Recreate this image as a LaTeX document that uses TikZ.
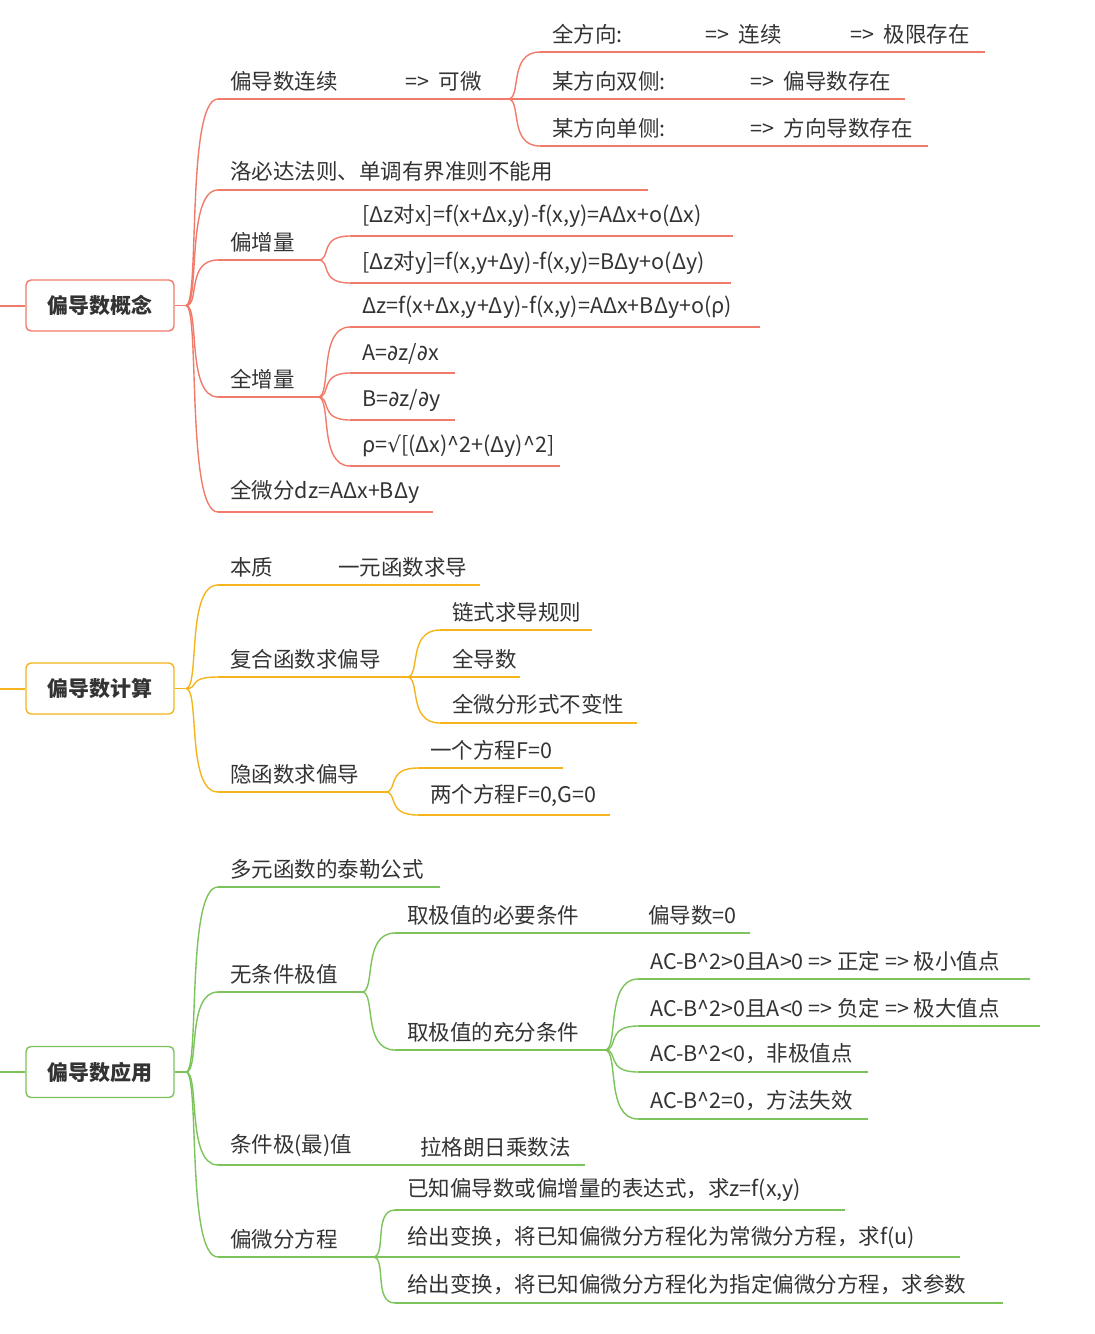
\documentclass[tikz,border=0pt]{standalone}
\usepackage{fontspec}
\setmainfont{Noto Sans CJK SC}
\newfontfamily\symf{DejaVu Sans}
\usetikzlibrary{calc}
\definecolor{mred}{HTML}{F07B6A}
\definecolor{morange}{HTML}{F5B41C}
\definecolor{mgreen}{HTML}{7BC35A}
\definecolor{mtext}{HTML}{333333}
\colorlet{bc}{mred}
\tikzset{
  txt/.style={anchor=south west,inner sep=0pt,text=mtext,font=\fontsize{21.5}{25}\selectfont},
  uline/.style={draw=bc,line width=1.4pt},
  rootbox/.style={draw=bc,line width=1.4pt,rounded corners=5pt,minimum width=148pt,
    minimum height=51pt,text=mtext,font=\fontsize{21}{25}\selectfont\bfseries,fill=white}
}
\newcommand\pd{{\symf ∂}}
% leaf: name, x start, x end, y, text
\newcommand\leaf[5]{%
  \coordinate (#1-s) at (#2,#4);
  \coordinate (#1-e) at (#3,#4);
  \draw[uline] (#1-s) -- (#1-e);
  \node[txt] (#1) at (#2+12,#4-8) {#5};
}
\newcommand\link[2]{%
  \draw[uline] (#1) .. controls ($(#1)+(14,0)$) and ($(#1|-#2)+(0,0)$) .. (#2);
}
\begin{document}
\begin{tikzpicture}[x=1pt,y=-1pt]
\useasboundingbox (0,0) rectangle (1095,1334);

% ---- 偏导数概念
\colorlet{bc}{mred}
\node[rootbox] (r1) at (100,305.5) {偏导数概念};
\coordinate (r1-l) at (0,305.5);
\coordinate (r1-e) at (186,305.5);
\draw[uline,line width=2pt] (r1-l) -- (r1.west);
\draw[uline] (r1.east) -- (r1-e);
\leaf{kw}{218}{508}{99}{偏导数连续}
\node[txt] at (405,91) {=>\ \ 可微};
\leaf{qf}{540}{985}{52}{全方向:}
\node[txt] at (705,44) {=>\ \ 连续};
\node[txt] at (850,44) {=>\ \ 极限存在};
\leaf{sc}{540}{905}{99}{某方向双侧:}
\node[txt] at (750,91) {=>\ \ 偏导数存在};
\leaf{dc}{540}{928}{146}{某方向单侧:}
\node[txt] at (750,138) {=>\ \ 方向导数存在};
\leaf{lb}{218}{648}{190}{洛必达法则、单调有界准则不能用}
\leaf{pz}{218}{318}{260}{偏增量}
\leaf{px}{350}{733}{236}{[Δz对x]=f(x+Δx,y)-f(x,y)=AΔx+o(Δx)}
\leaf{py}{350}{731}{283}{[Δz对y]=f(x,y+Δy)-f(x,y)=BΔy+o(Δy)}
\leaf{qz}{218}{318}{397}{全增量}
\leaf{dz}{350}{760}{327}{Δz=f(x+Δx,y+Δy)-f(x,y)=AΔx+BΔy+o(ρ)}
\leaf{ca}{350}{455}{373}{A=\pd z/\pd x}
\leaf{cb}{350}{455}{420}{B=\pd z/\pd y}
\leaf{rho}{350}{560}{466}{ρ={\symf √}[(Δx)\^{}2+(Δy)\^{}2]}
\leaf{qw}{218}{433}{512}{全微分dz=AΔx+BΔy}
\foreach \c in {kw,lb,pz,qz,qw} {\link{r1-e}{\c-s}}
\foreach \c in {qf,sc,dc} {\link{kw-e}{\c-s}}
\foreach \c in {px,py} {\link{pz-e}{\c-s}}
\foreach \c in {dz,ca,cb,rho} {\link{qz-e}{\c-s}}

% ---- 偏导数计算
\colorlet{bc}{morange}
\node[rootbox] (r2) at (100,688.5) {偏导数计算};
\coordinate (r2-l) at (0,688.5);
\coordinate (r2-e) at (186,688.5);
\draw[uline,line width=2pt] (r2-l) -- (r2.west);
\draw[uline] (r2.east) -- (r2-e);
\leaf{bz}{218}{480}{585}{本质}
\node[txt] at (338,577) {一元函数求导};
\leaf{fh}{218}{407}{677}{复合函数求偏导}
\leaf{ls}{440}{592}{630}{链式求导规则}
\leaf{qd}{440}{520}{677}{全导数}
\leaf{bb}{440}{637}{723}{全微分形式不变性}
\leaf{yh}{218}{385}{792}{隐函数求偏导}
\leaf{yg}{418}{563}{768}{一个方程F=0}
\leaf{lg}{418}{610}{815}{两个方程F=0,G=0}
\foreach \c in {bz,fh,yh} {\link{r2-e}{\c-s}}
\foreach \c in {ls,qd,bb} {\link{fh-e}{\c-s}}
\foreach \c in {yg,lg} {\link{yh-e}{\c-s}}

% ---- 偏导数应用
\colorlet{bc}{mgreen}
\node[rootbox] (r3) at (100,1072) {偏导数应用};
\coordinate (r3-l) at (0,1072);
\coordinate (r3-e) at (186,1072);
\draw[uline,line width=2pt] (r3-l) -- (r3.west);
\draw[uline] (r3.east) -- (r3-e);
\leaf{tl}{218}{440}{887}{多元函数的泰勒公式}
\leaf{wt}{218}{362}{992}{无条件极值}
\leaf{by}{395}{750}{933}{取极值的必要条件}
\node[txt] at (648,925) {偏导数=0};
\leaf{cf}{395}{605}{1050}{取极值的充分条件}
\leaf{ja}{638}{1030}{979}{AC-B\^{}2>0且A>0 => 正定 => 极小值点}
\leaf{jb}{638}{1040}{1026}{AC-B\^{}2>0且A<0 => 负定 => 极大值点}
\leaf{jc}{638}{868}{1072}{AC-B\^{}2<0，非极值点}
\leaf{jd}{638}{868}{1119}{AC-B\^{}2=0，方法失效}
\leaf{tj}{218}{585}{1165}{条件极(最)值}
\node[txt] at (420,1157) {拉格朗日乘数法};
\leaf{pw}{218}{373}{1257}{偏微分方程}
\leaf{ea}{395}{845}{1210}{已知偏导数或偏增量的表达式，求z=f(x,y)}
\leaf{eb}{395}{960}{1257}{给出变换，将已知偏微分方程化为常微分方程，求f(u)}
\leaf{ec}{395}{1003}{1303}{给出变换，将已知偏微分方程化为指定偏微分方程，求参数}
\foreach \c in {tl,wt,tj,pw} {\link{r3-e}{\c-s}}
\foreach \c in {by,cf} {\link{wt-e}{\c-s}}
\foreach \c in {ja,jb,jc,jd} {\link{cf-e}{\c-s}}
\foreach \c in {ea,eb,ec} {\link{pw-e}{\c-s}}
\end{tikzpicture}
\end{document}
